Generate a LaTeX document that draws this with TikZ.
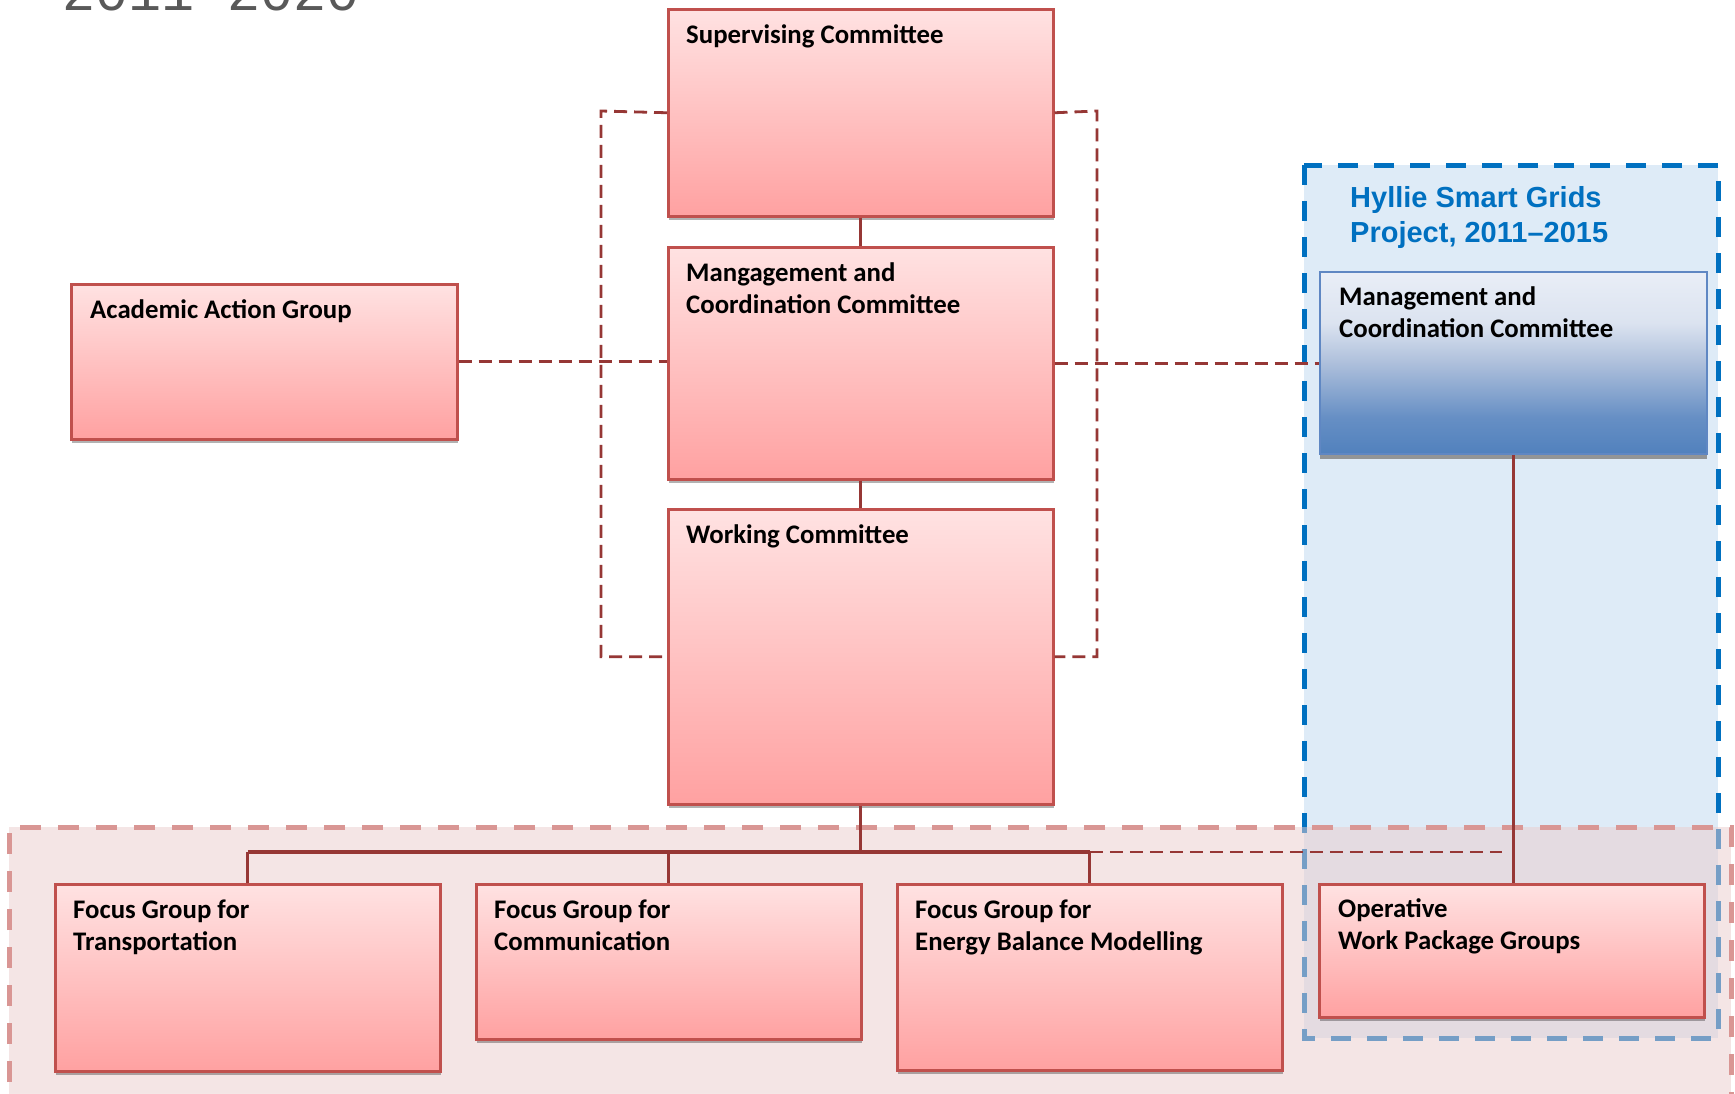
\documentclass[tikz,border=0pt]{standalone}
\usepackage{fontspec}
\setmainfont{Carlito}
\newfontfamily\arialf{Liberation Sans}
\newfontfamily\monof{Liberation Mono}
\usetikzlibrary{shadows,calc}
\definecolor{pinktop}{RGB}{255,226,226}
\definecolor{pinkbot}{RGB}{255,161,161}
\definecolor{boxborder}{RGB}{192,80,77}
\definecolor{conred}{RGB}{150,55,53}
\definecolor{bluefill}{RGB}{222,235,247}
\definecolor{blueline}{RGB}{0,112,192}
\definecolor{pinkfill}{RGB}{235,205,205}
\definecolor{pinkline}{RGB}{217,150,148}
\definecolor{blueborder}{RGB}{95,135,195}
\definecolor{titlegray}{RGB}{89,89,89}
\definecolor{hyllie}{RGB}{0,112,192}
\pgfdeclareverticalshading{bluegrad}{100bp}{rgb(0bp)=(0.318,0.506,0.741); rgb(25bp)=(0.318,0.506,0.741); rgb(35bp)=(0.40,0.56,0.77); rgb(50bp)=(0.68,0.75,0.86); rgb(61bp)=(0.86,0.89,0.94); rgb(75bp)=(0.914,0.933,0.969); rgb(100bp)=(0.914,0.933,0.969)}
\begin{document}
\begin{tikzpicture}[x=1pt,y=-1pt,
  redbox/.style={draw=boxborder, line width=2.5pt, top color=pinktop, bottom color=pinkbot,
    anchor=north west, minimum width=385pt, inner sep=0pt,
    drop shadow={shadow xshift=1pt, shadow yshift=-4pt, opacity=0.3, fill=black}},
  bluebox/.style={draw=blueborder, line width=2pt, shading=bluegrad,
    anchor=north west, minimum width=387pt, inner sep=0pt,
    drop shadow={shadow xshift=0pt, shadow yshift=-5pt, opacity=0.8, fill=gray}},
  lbl/.style={anchor=base west, inner sep=0pt, align=left, text=black,
    font=\fontsize{26.8}{32}\selectfont\bfseries},
  con/.style={draw=conred, line width=3pt},
  busline/.style={draw=conred, line width=4.5pt},
  dcon/.style={draw=conred, line width=2.8pt, dash pattern=on 13pt off 7pt}
]
\useasboundingbox (0,0) rectangle (1735,1093);
\fill[white] (0,0) rectangle (1735,1093);

% title (cut off at top, as in the reference)
\node[anchor=base west, inner sep=0pt, font=\monof\fontsize{55}{60}\selectfont, text=titlegray] (title) at (62,10) {2011–2020};

% blue project region
\path[fill=bluefill] (1304,165) rectangle (1718,1038);
\draw[blueline, line width=5pt, dash pattern=on 20pt off 16pt] (1304,165) rectangle (1718,1038);

% pink focus region
\fill[pinkfill, fill opacity=0.5] (9,827) rectangle (1731,1120);
\draw[pinkline, line width=5pt, dash pattern=on 21pt off 17pt] (9,1120) -- (9,827) -- (1731,827) -- (1731,1120);

\node[anchor=base west, inner sep=0pt, align=left, font=\arialf\bfseries\fontsize{29}{35}\selectfont, text=hyllie] (hyl) at (1350,242) {Hyllie Smart Grids\\Project, 2011–2015};

% boxes
\node[redbox, minimum height=207pt] (sup) at (667,8) {};
\node[redbox, minimum height=232pt] (mgr) at (667,246) {};
\node[redbox, minimum height=295pt] (wc) at (667,508) {};
\node[redbox, minimum height=155pt, minimum width=386pt] (aag) at (70,283) {};
\node[bluebox, minimum height=182pt] (mgb) at (1319,271) {};
\node[redbox, minimum height=187pt] (fg1) at (54,883) {};
\node[redbox, minimum height=155pt] (fg2) at (475,883) {};
\node[redbox, minimum height=186pt] (fg3) at (896,883) {};
\node[redbox, minimum height=133pt] (op) at (1318,883) {};

% labels (base anchor = baseline of the last line)
\node[lbl] (supt) at ([shift={(19,35)}]sup.north west) {Supervising Committee};
\node[lbl] (mgrt) at ([shift={(19,67)}]mgr.north west) {Mangagement and\\Coordination Committee};
\node[lbl] (wct) at ([shift={(19,35)}]wc.north west) {Working Committee};
\node[lbl] (aagt) at ([shift={(20,35)}]aag.north west) {Academic Action Group};
\node[lbl] (mgbt) at ([shift={(20,66)}]mgb.north west) {Management and\\Coordination Committee};
\node[lbl] (fg1t) at ([shift={(19,67)}]fg1.north west) {Focus Group for\\Transportation};
\node[lbl] (fg2t) at ([shift={(19,67)}]fg2.north west) {Focus Group for\\Communication};
\node[lbl] (fg3t) at ([shift={(19,67)}]fg3.north west) {Focus Group for\\Energy Balance Modelling};
\node[lbl] (opt) at ([shift={(20,66)}]op.north west) {Operative\\Work Package Groups};

% solid connectors
\draw[con] (sup.south) -- (mgr.north);
\draw[con] (mgr.south) -- (wc.north);
\coordinate (bus) at (wc.south |- 0,852);
\draw[con] (wc.south) -- (bus);
\draw[busline] (fg1.north |- bus) -- (fg3.north |- bus);
\draw[con] (fg1.north |- bus) -- (fg1.north);
\draw[con] (fg2.north |- bus) -- (fg2.north);
\draw[con] (fg3.north |- bus) -- (fg3.north);
\draw[con] (mgb.south) -- (mgb.south |- op.north);

% dashed connectors
\coordinate (bl) at (601,111);
\coordinate (br) at (1097,111);
\draw[dcon] (sup.west) -- (bl) -- (bl |- wc.west) -- (wc.west);
\draw[dcon] (sup.east) -- (br) -- (br |- wc.west) -- (wc.east);
\draw[dcon] (aag.east) -- (aag.east -| mgr.west);
\draw[dcon] (mgr.east) -- (mgr.east -| mgb.west);
\coordinate (dend) at (1502,852);
\draw[dcon] (fg3.north |- bus) -- (dend);
\end{tikzpicture}
\end{document}
